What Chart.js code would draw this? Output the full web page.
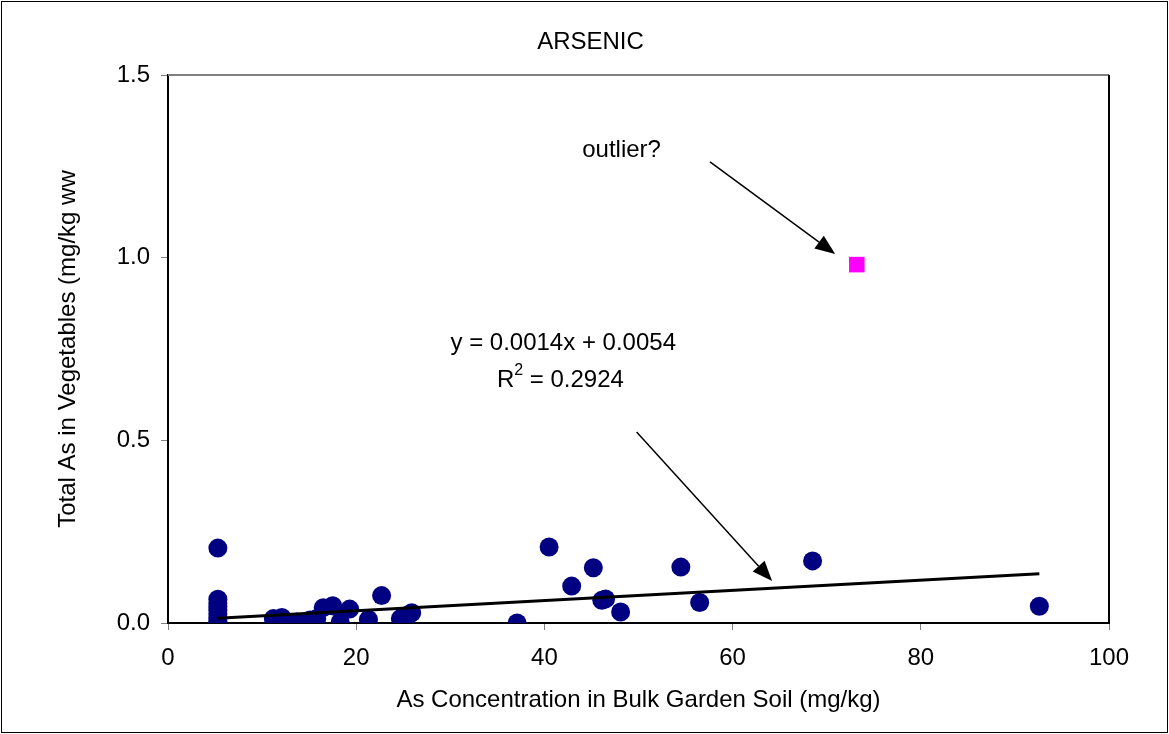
<!DOCTYPE html>
<html>
<head>
<meta charset="utf-8">
<script src="https://cdn.jsdelivr.net/npm/chart.js@4"></script>
<style>
  html, body { margin: 0; padding: 0; background: #fff; }
  #wrap { width: 1169px; height: 734px; }
</style>
</head>
<body>
<div id="wrap"><canvas id="chart" width="1169" height="734"></canvas></div>
<script>
// soil As (mg/kg) vs vegetable As (mg/kg ww)
const vegX = [5.3, 5.3, 5.3, 5.3, 5.3, 5.3, 5.3, 5.3, 5.3,
  11.2, 12.1, 13.7, 15.1, 15.8, 16.5, 17.5, 18.3, 19.3, 21.3, 22.7, 24.7, 25.5, 25.9,
  37.1, 40.5, 42.9, 45.2, 46.1, 46.5, 48.1, 54.5, 56.5, 68.5, 92.6];
const vegY = [0.205, 0.065, 0.055, 0.045, 0.035, 0.025, 0.015, 0.005, 0.0,
  0.012, 0.015, 0.003, 0.008, 0.012, 0.042, 0.047, 0.003, 0.038, 0.010, 0.075, 0.012, 0.022, 0.028,
  0.0, 0.208, 0.101, 0.151, 0.062, 0.066, 0.030, 0.153, 0.056, 0.170, 0.046];

const outlierX = [73.2];
const outlierY = [0.981];

// linear fit shown on the chart
const slope = 0.0014;
const intercept = 0.0054;
const trendX = [5.3, 92.6];

const font = "'Liberation Sans', Arial, sans-serif";
const chartTitle = "ARSENIC";

// annotations, in data units
const notes = [
  { text: "outlier?", x: 48.2, y: 1.295 },
  { text: "y = 0.0014x + 0.0054", x: 42.0, y: 0.766 }
];
const arrows = [
  { from: [57.6, 1.262], to: [70.9, 1.010] },
  { from: [49.8, 0.523], to: [64.2, 0.115] }
];

const toPoints = (xs, ys) => xs.map((x, i) => ({ x: x, y: ys[i] }));

const annotations = {
  id: "annotations",
  beforeDraw(chart) {
    const ctx = chart.ctx;
    ctx.save();
    ctx.fillStyle = "#fff";
    ctx.fillRect(0, 0, chart.width, chart.height);
    ctx.strokeStyle = "#000";
    ctx.lineWidth = 1;
    ctx.strokeRect(1.5, 1.5, chart.width - 3, chart.height - 3);
    // title is centred on the whole page, not the plot
    ctx.fillStyle = "#000";
    ctx.font = "24px " + font;
    ctx.textAlign = "center";
    ctx.textBaseline = "middle";
    ctx.fillText(chartTitle, chart.width / 2 + 6, 42);
    ctx.restore();
  },
  afterDatasetsDraw(chart) {
    const ctx = chart.ctx;
    const xs = chart.scales.x, ys = chart.scales.y;
    const a = chart.chartArea;
    ctx.save();
    // plot area frame (top grey, right black)
    ctx.lineWidth = 2;
    ctx.strokeStyle = "#808080";
    ctx.beginPath();
    ctx.moveTo(a.left, a.top);
    ctx.lineTo(a.right, a.top);
    ctx.stroke();
    ctx.strokeStyle = "#000";
    ctx.beginPath();
    ctx.moveTo(a.right, a.top);
    ctx.lineTo(a.right, a.bottom);
    ctx.stroke();

    ctx.fillStyle = "#000";
    ctx.font = "24px " + font;
    ctx.textAlign = "center";
    ctx.textBaseline = "middle";
    notes.forEach((n) => {
      ctx.fillText(n.text, xs.getPixelForValue(n.x), ys.getPixelForValue(n.y));
    });

    // R squared line with superscript
    const rx = xs.getPixelForValue(41.7), ry = ys.getPixelForValue(0.665);
    const partA = "R", partB = " = 0.2924";
    ctx.font = "24px " + font;
    const wA = ctx.measureText(partA).width, wB = ctx.measureText(partB).width;
    ctx.font = "16px " + font;
    const wS = ctx.measureText("2").width;
    let cx = rx - (wA + wS + wB) / 2;
    ctx.textAlign = "left";
    ctx.font = "24px " + font;
    ctx.fillText(partA, cx, ry);
    ctx.font = "16px " + font;
    ctx.fillText("2", cx + wA, ry - 9);
    ctx.font = "24px " + font;
    ctx.fillText(partB, cx + wA + wS, ry);

    // arrows
    arrows.forEach((ar) => {
      const x1 = xs.getPixelForValue(ar.from[0]), y1 = ys.getPixelForValue(ar.from[1]);
      const x2 = xs.getPixelForValue(ar.to[0]), y2 = ys.getPixelForValue(ar.to[1]);
      const ang = Math.atan2(y2 - y1, x2 - x1);
      const len = 20, half = 8;
      const bx = x2 - len * Math.cos(ang), by = y2 - len * Math.sin(ang);
      ctx.strokeStyle = "#000";
      ctx.lineWidth = 1.5;
      ctx.beginPath();
      ctx.moveTo(x1, y1);
      ctx.lineTo(bx, by);
      ctx.stroke();
      ctx.beginPath();
      ctx.moveTo(x2, y2);
      ctx.lineTo(bx + half * Math.sin(ang), by - half * Math.cos(ang));
      ctx.lineTo(bx - half * Math.sin(ang), by + half * Math.cos(ang));
      ctx.closePath();
      ctx.fill();
    });
    ctx.restore();
  }
};

new Chart(document.getElementById("chart"), {
  type: "scatter",
  data: {
    datasets: [
      {
        label: "trend",
        type: "line",
        data: trendX.map((x) => ({ x: x, y: slope * x + intercept })),
        borderColor: "#000",
        borderWidth: 3,
        pointRadius: 0,
        fill: false,
        order: 0
      },
      {
        label: "vegetables",
        data: toPoints(vegX, vegY),
        backgroundColor: "#000080",
        borderColor: "#000080",
        pointRadius: 9.5,
        borderWidth: 0,
        order: 1
      },
      {
        label: "outlier",
        data: toPoints(outlierX, outlierY),
        backgroundColor: "#ff00ff",
        borderColor: "#ff00ff",
        pointStyle: "rect",
        pointRadius: 11,
        borderWidth: 0,
        order: 1
      }
    ]
  },
  options: {
    responsive: false,
    animation: false,
    layout: { padding: { left: 0, right: 60, top: 75, bottom: 0 } },
    plugins: {
      legend: { display: false },
      tooltip: { enabled: false },
      title: { display: false }
    },
    scales: {
      x: {
        type: "linear",
        min: 0,
        max: 100,
        ticks: {
          stepSize: 20,
          color: "#000",
          font: { family: font, size: 24 },
          padding: 14,
          maxRotation: 0
        },
        grid: { drawOnChartArea: false, color: "#808080", tickLength: 7 },
        border: { color: "#000", width: 2 },
        title: {
          display: true,
          text: "As Concentration in Bulk Garden Soil (mg/kg)",
          color: "#000",
          font: { family: font, size: 24 },
          padding: { top: 0, bottom: 19.6 }
        },
        afterFit(scale) { scale.height = 111; }
      },
      y: {
        min: 0,
        max: 1.5,
        ticks: {
          stepSize: 0.5,
          color: "#000",
          font: { family: font, size: 24 },
          padding: 11,
          callback: (v) => v.toFixed(1)
        },
        grid: { drawOnChartArea: false, color: "#808080", tickLength: 7 },
        border: { color: "#000", width: 2 },
        title: {
          display: true,
          text: "Total As in Vegetables (mg/kg ww",
          color: "#000",
          font: { family: font, size: 24 },
          padding: { top: 53.6, bottom: 0 }
        },
        afterFit(scale) { scale.width = 168; }
      }
    }
  },
  plugins: [annotations]
});
</script>
</body>
</html>
